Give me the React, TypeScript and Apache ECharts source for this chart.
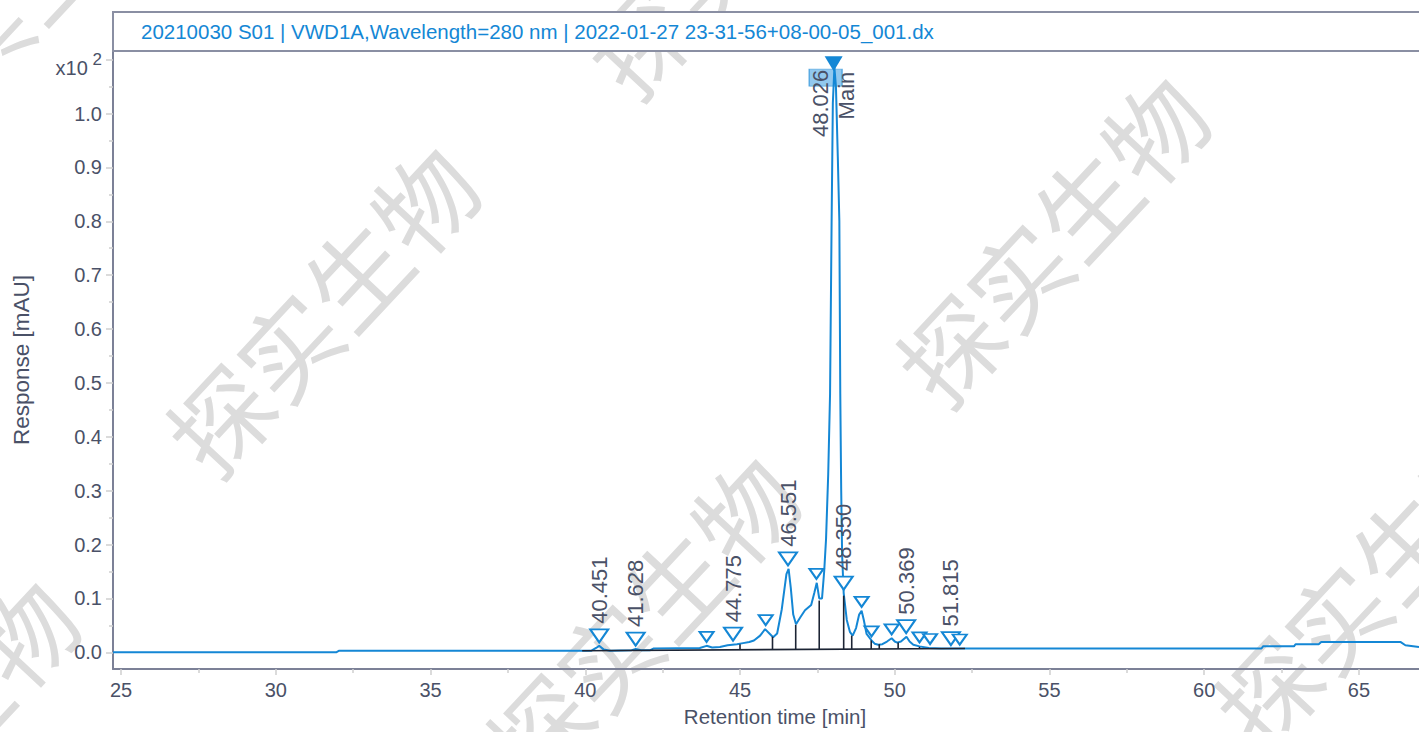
import React, { useEffect, useRef } from "react";
import * as echarts from "echarts";

// ---- data ----
const signalTime = [
  24.74, 31.95, 32.05, 40.2, 40.35, 40.45, 40.6, 40.8, 41.5, 41.63, 41.8, 42.1, 42.2, 43.7, 43.92, 44.1,
  44.35, 44.6, 44.9, 45.1, 45.3, 45.45, 45.65, 45.81, 45.95, 46.07, 46.2, 46.35, 46.5, 46.57, 46.64,
  46.72, 46.81, 46.95, 47.1, 47.3, 47.4, 47.48, 47.56, 47.65, 47.72, 47.78, 47.85, 47.91, 47.96, 48.0,
  48.05, 48.1, 48.16, 48.21, 48.24, 48.27, 48.3, 48.35, 48.45, 48.55, 48.64, 48.75, 48.85, 48.93, 49.0,
  49.09, 49.17, 49.25, 49.35, 49.47, 49.6, 49.75, 49.9, 50.0, 50.08, 50.2, 50.38, 50.48, 50.6, 50.8,
  51.1, 51.5, 52.3, 61.85, 61.9, 62.9, 62.95, 63.7, 63.78, 66.35, 66.5, 66.94,
];
const signalValue = [
  0.0, 0.0, 0.003, 0.003, 0.008, 0.012, 0.005, 0.003, 0.004, 0.006, 0.004, 0.004, 0.007, 0.008, 0.012, 0.009,
  0.01, 0.013, 0.015, 0.017, 0.019, 0.022, 0.031, 0.043, 0.035, 0.028, 0.035, 0.08, 0.145, 0.155, 0.12,
  0.07, 0.052, 0.065, 0.078, 0.088, 0.11, 0.129, 0.1, 0.1, 0.15, 0.21, 0.33, 0.48, 0.8, 1.02,
  1.085, 1.05, 0.92, 0.8, 0.48, 0.3, 0.18, 0.11, 0.06, 0.038, 0.031, 0.045, 0.07, 0.077, 0.06,
  0.034, 0.028, 0.022, 0.016, 0.014, 0.015, 0.02, 0.026, 0.02, 0.018, 0.02, 0.029, 0.02, 0.014, 0.011,
  0.008, 0.007, 0.007, 0.007, 0.011, 0.011, 0.015, 0.015, 0.019, 0.019, 0.013, 0.01,
];

const labelledPeakTimes = [40.451, 41.628, 44.775, 46.551, 48.35, 50.369, 51.815];
const labelledPeakHeights = [0.012, 0.006, 0.015, 0.155, 0.11, 0.029, 0.007];
const labelledPeakNames = ["40.451", "41.628", "44.775", "46.551", "48.350", "50.369", "51.815"];

const minorPeakTimes = [43.92, 45.83, 47.47, 48.93, 49.25, 49.9, 50.8, 51.14, 52.1];
const minorPeakHeights = [0.012, 0.043, 0.129, 0.077, 0.022, 0.026, 0.011, 0.008, 0.007];

const mainPeakTime = 48.026;
const mainPeakHeight = 1.085;
const mainPeakLabels = ["48.026", "Main"];

const dropTimes = [45.0, 46.05, 46.8, 47.56, 48.35, 48.61, 49.24, 49.5, 50.11, 50.8];
const dropTops = [0.015, 0.029, 0.051, 0.096, 0.105, 0.031, 0.022, 0.015, 0.018, 0.01];

const integrationTimes = [39.9, 52.27];
const integrationValues = [0.003, 0.007];

const xTickValues = [25, 30, 35, 40, 45, 50, 55, 60, 65];
const xMinorTickValues = [27.5, 32.5, 37.5, 42.5, 47.5, 52.5, 57.5, 62.5];
const yTickValues = [0, 0.1, 0.2, 0.3, 0.4, 0.5, 0.6, 0.7, 0.8, 0.9, 1.0, 1.1];
const yMinorTickValues = [0.05, 0.15, 0.25, 0.35, 0.45, 0.55, 0.65, 0.75, 0.85, 0.95, 1.05];

const titleText = "20210030 S01 | VWD1A,Wavelength=280 nm | 2022-01-27 23-31-56+08-00-05_001.dx";
const watermarkText = "探实生物";

const BLUE = "#1487d5";
const TEXT = "#4a5167";
const AXIS = "#7c8197";
const TICK = "#cfcfcf";
const FONT = "'Liberation Sans', Arial, sans-serif";

const X_MIN = 24.74;
const X_MAX = 66.94;
const Y_MIN = -0.031;
const Y_MAX = 1.116;

function baselineAt(t: number) {
  const [t0, t1] = integrationTimes;
  const [v0, v1] = integrationValues;
  return v0 + ((t - t0) / (t1 - t0)) * (v1 - v0);
}

export default function App() {
  const ref = useRef<HTMLDivElement>(null);
  useEffect(() => {
    const chart = echarts.init(ref.current!, null, { renderer: "svg" });

    const watermarkCenters = [
      [10, 0],
      [740, -70],
      [320, 308],
      [1050, 238],
      [640, 618],
      [1368, 580],
      [-80, 742],
    ];
    const rot = (47 * Math.PI) / 180;

    const option: any = {
      animation: false,
      backgroundColor: "#ffffff",
      textStyle: { fontFamily: FONT },
      grid: { left: 113, top: 51, right: 0, bottom: 60, containLabel: false },
      graphic: [
        ...watermarkCenters.map(([cx, cy]) => ({
          type: "text",
          x: cx,
          y: cy,
          rotation: rot,
          z: -10,
          silent: true,
          style: {
            text: watermarkText,
            fill: "#dcdcdc",
            font: "100px 'Noto Sans CJK SC', sans-serif",
            align: "center",
            verticalAlign: "middle",
          },
        })),
        {
          type: "rect",
          shape: { x: 113, y: 12, width: 1340, height: 39 },
          style: { fill: "#ffffff", stroke: "#8a8fa3", lineWidth: 2 },
          z: 10,
        },
        {
          type: "text",
          x: 141,
          y: 31,
          z: 11,
          style: {
            text: titleText,
            fill: BLUE,
            font: "20.5px " + FONT,
            verticalAlign: "middle",
          },
        },
      ],
      xAxis: [
        {
          type: "value",
          min: X_MIN,
          max: X_MAX,
          name: "Retention time [min]",
          nameLocation: "middle",
          nameGap: 37,
          nameTextStyle: { color: TEXT, fontSize: 20.5, fontFamily: FONT, padding: [0, 0, 0, 18] },
          axisLine: { onZero: false, lineStyle: { color: AXIS, width: 2 } },
          axisTick: { customValues: xTickValues, length: 6, lineStyle: { color: TICK, width: 1.5 } },
          axisLabel: { customValues: xTickValues, color: TEXT, fontSize: 20, margin: 11, fontFamily: FONT },
          splitLine: { show: false },
        },
        {
          type: "value",
          min: X_MIN,
          max: X_MAX,
          position: "bottom",
          axisLine: { show: false, onZero: false },
          axisTick: { customValues: xMinorTickValues, length: 4, lineStyle: { color: TICK, width: 1.5 } },
          axisLabel: { show: false },
          splitLine: { show: false },
        },
      ],
      yAxis: [
        {
          type: "value",
          min: Y_MIN,
          max: Y_MAX,
          name: "Response [mAU]",
          nameLocation: "middle",
          nameGap: 80,
          nameTextStyle: { color: TEXT, fontSize: 22.5, fontFamily: FONT },
          axisLine: { onZero: false, lineStyle: { color: AXIS, width: 2 } },
          axisTick: { customValues: yTickValues, length: 7, lineStyle: { color: TICK, width: 1.5 } },
          axisLabel: {
            customValues: yTickValues,
            color: TEXT,
            fontSize: 20,
            margin: 11,
            fontFamily: FONT,
            formatter: (v: number) => (Math.abs(v - 1.1) < 1e-6 ? "{a|x10}{b| 2}" : v.toFixed(1)),
            rich: {
              a: { fontSize: 20, color: TEXT, padding: [16, 0, 0, 0], fontFamily: FONT },
              b: { fontSize: 17, color: TEXT, fontFamily: FONT },
            },
          },
          splitLine: { show: false },
        },
        {
          type: "value",
          min: Y_MIN,
          max: Y_MAX,
          position: "left",
          axisLine: { show: false, onZero: false },
          axisTick: { customValues: yMinorTickValues, length: 4, lineStyle: { color: TICK, width: 1.5 } },
          axisLabel: { show: false },
          splitLine: { show: false },
        },
      ],
      series: [
        {
          type: "scatter",
          name: "mainHighlight",
          z: 1,
          silent: true,
          symbol: "rect",
          symbolSize: [33, 17],
          symbolOffset: [-8, 10],
          itemStyle: {
            color: "rgba(110,182,232,0.75)",
            borderColor: "rgba(20,135,213,0.6)",
            borderWidth: 1,
            opacity: 1,
          },
          data: [[mainPeakTime, mainPeakHeight]],
        },
        {
          type: "line",
          name: "signal",
          z: 3,
          showSymbol: false,
          symbol: "none",
          lineStyle: { color: BLUE, width: 2 },
          data: signalTime.map((t, i) => [t, signalValue[i]]),
        },
        {
          type: "line",
          name: "integration",
          z: 4,
          symbol: "none",
          lineStyle: { color: "#1c2434", width: 1.6 },
          data: integrationTimes.map((t, i) => [t, integrationValues[i]]),
        },
        {
          type: "custom",
          name: "drops",
          z: 4,
          data: dropTimes.map((t, i) => [t, dropTops[i], baselineAt(t)]),
          renderItem: (params: any, api: any) => {
            const p1 = api.coord([api.value(0), api.value(2)]);
            const p2 = api.coord([api.value(0), api.value(1)]);
            return {
              type: "line",
              shape: { x1: p1[0], y1: p1[1], x2: p2[0], y2: p2[1] },
              style: { stroke: "#1c2434", lineWidth: 1.6 },
            };
          },
        },
        {
          type: "scatter",
          name: "labelledMarkers",
          z: 5,
          symbol: "triangle",
          symbolRotate: 180,
          symbolSize: [18, 13],
          symbolOffset: [0, -10],
          itemStyle: { color: "#ffffff", borderColor: BLUE, borderWidth: 2, opacity: 1 },
          data: labelledPeakTimes.map((t, i) => [t, labelledPeakHeights[i]]),
        },
        {
          type: "scatter",
          name: "minorMarkers",
          z: 5,
          symbol: "triangle",
          symbolRotate: 180,
          symbolSize: [14, 10],
          symbolOffset: [0, -9],
          itemStyle: { color: "#ffffff", borderColor: BLUE, borderWidth: 2, opacity: 1 },
          data: minorPeakTimes.map((t, i) => [t, minorPeakHeights[i]]),
        },
        {
          type: "scatter",
          name: "peakLabels",
          z: 6,
          symbolSize: 0,
          itemStyle: { color: "rgba(0,0,0,0)", opacity: 1 },
          label: {
            show: true,
            position: "top",
            distance: 22,
            rotate: 90,
            align: "left",
            verticalAlign: "middle",
            color: TEXT,
            opacity: 1,
            fontSize: 22,
            fontFamily: FONT,
            formatter: (p: any) => p.value[2],
          },
          data: labelledPeakTimes.map((t, i) => [t, labelledPeakHeights[i], labelledPeakNames[i]]),
        },
        {
          type: "scatter",
          name: "mainMarker",
          z: 5,
          symbol: "triangle",
          symbolRotate: 180,
          symbolSize: [18, 15],
          symbolOffset: [0, -4],
          itemStyle: { color: BLUE, opacity: 1 },
          data: [[mainPeakTime, mainPeakHeight]],
        },
        {
          type: "scatter",
          name: "mainLabels",
          z: 6,
          symbolSize: 0,
          itemStyle: { color: "rgba(0,0,0,0)", opacity: 1 },
          label: {
            show: true,
            rotate: 90,
            align: "right",
            verticalAlign: "middle",
            color: TEXT,
            opacity: 1,
            fontSize: 22,
            fontFamily: FONT,
            formatter: (p: any) => p.value[2],
          },
          data: [
            { value: [mainPeakTime, mainPeakHeight, mainPeakLabels[0]], label: { position: [-13, 2] } },
            { value: [mainPeakTime, mainPeakHeight, mainPeakLabels[1]], label: { position: [13, 4] } },
          ],
        },
      ],
    };
    chart.setOption(option);
    return () => chart.dispose();
  }, []);
  return (
    <div
      ref={ref}
      style={{ position: "fixed", left: 0, top: 0, width: 1419, height: 732, background: "#fff" }}
    />
  );
}
